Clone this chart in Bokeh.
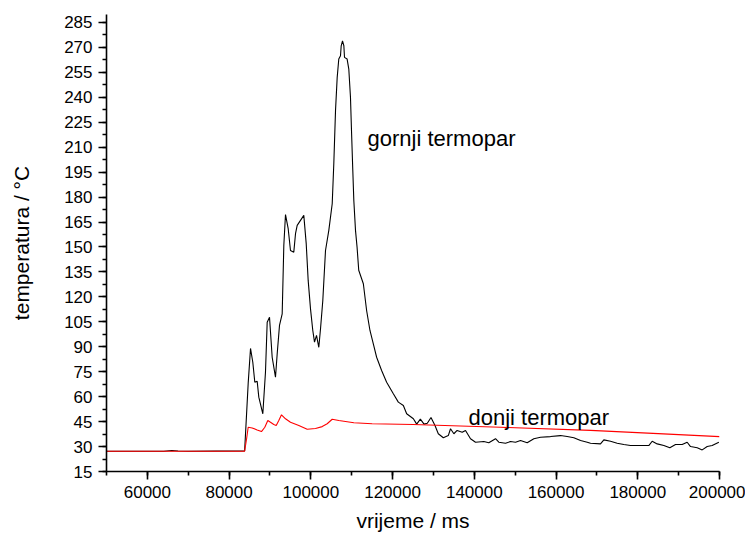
from bokeh.plotting import figure
from bokeh.models import SingleIntervalTicker, Label, Range1d, BasicTickFormatter
from bokeh.embed import file_html
from bokeh.resources import INLINE

# gornji termopar (upper thermocouple)
t_gornji = [50000, 64000, 66000, 67500, 70000, 83800, 84670, 85240, 85800, 86290,
            86870, 87270, 88250, 88900, 89320, 89890, 90540, 91350, 91770, 92330,
            92990, 93390, 93800, 94460, 95020, 95830, 96250, 96660, 98280, 98870,
            99350, 99920, 100480, 100900, 101390, 101950, 102370, 102930, 103590, 104400,
            105230, 105620, 106040, 106450, 106840, 107260, 107430, 107750, 108080, 108240,
            108880, 109290, 109700, 109950, 110270, 110520, 110930, 111310, 111720, 112850,
            113650, 114470, 115290, 116100, 117320, 118550, 120190, 121410, 122640, 123450,
            125090, 125900, 126800, 127700, 128500, 129400, 130380, 131190, 132420, 133640,
            134180, 135000, 135800, 137040, 137850, 139070, 140300, 142330, 143550, 145190,
            146000, 147640, 148860, 150080, 151310, 152940, 154570, 156200, 158650, 161090,
            162730, 164360, 166000, 167630, 168440, 170880, 171700, 173330, 174960, 176590,
            178220, 181480, 182700, 183530, 184750, 186380, 187850, 189240, 190870, 192090,
            192910, 194550, 195770, 196990, 198210, 199840]
T_gornji = [27.2, 27.2, 27.6, 27.3, 27.2, 27.4, 68, 89, 80.7, 68.7,
            69.3, 59.7, 49.7, 74.7, 104.8, 107.8, 83.7, 71.7, 85.8, 102.8,
            109.8, 150.9, 169.5, 161, 147.9, 146.9, 158, 163, 169, 152,
            129.9, 112.8, 99.8, 92.8, 96.8, 89.7, 100.8, 117.8, 147.9, 160,
            176, 200, 232, 252, 263, 265, 271, 274, 271, 264,
            263, 257, 240, 220, 196, 178, 160, 150, 136, 127.9,
            111.8, 99.8, 91.8, 83.7, 75.7, 68.7, 61.7, 56.7, 54.7, 49.7,
            46.7, 43.5, 46.5, 43.5, 44, 47.5, 42.7, 37.7, 35.3, 36.6,
            40.7, 37.7, 39.7, 38.6, 39.7, 34.7, 32.6, 33, 32.3, 34.7,
            32.6, 32, 33, 32.6, 33.6, 32.3, 34.7, 35.6, 36, 36.6,
            36, 35.3, 33.6, 32.6, 32, 31.6, 34, 33.2, 32, 31.2,
            30.6, 30.6, 30.6, 33.2, 31.6, 30.6, 29.3, 31.2, 31.2, 32.6,
            30, 29.3, 28, 30, 30.6, 32.6]

# donji termopar (lower thermocouple)
t_donji = [50000, 83800, 84300, 84670, 85650, 86870, 87920, 88740, 89470, 90130,
           90940, 91530, 92160, 92820, 93800, 95020, 97060, 99110, 101140, 102780,
           104000, 105230, 106850, 108490, 110530, 115000, 125000, 136620, 146400, 168440,
           185000, 200000]
T_donji = [27.2, 27.2, 35, 41.6, 41.2, 40, 39, 41.6, 45.7, 44.6,
           43.3, 42.7, 45.7, 49.1, 46.7, 44.6, 42.7, 40.4, 40.9, 42,
           43.7, 46.4, 45.7, 45.1, 44.3, 43.7, 43.3, 42.4, 41.6, 39.7,
           37.8, 36]

FONT = "Liberation Sans"

p = figure(frame_width=613, frame_height=457, output_backend="svg", toolbar_location=None,
           x_range=Range1d(50000, 200000), y_range=Range1d(15, 289.8),
           min_border_left=106, min_border_top=14, min_border_right=26, min_border_bottom=50)
p.outline_line_color = None
p.xgrid.visible = False
p.ygrid.visible = False
p.background_fill_color = "white"
p.border_fill_color = "white"

p.line(t_gornji, T_gornji, line_color="black", line_width=1.1)
p.line(t_donji, T_donji, line_color="red", line_width=1.1)

p.xaxis.ticker = SingleIntervalTicker(interval=20000, num_minor_ticks=2)
p.yaxis.ticker = SingleIntervalTicker(interval=15, num_minor_ticks=2)
p.xaxis.formatter = BasicTickFormatter(use_scientific=False)

for ax in (p.xaxis, p.yaxis):
    ax.axis_line_width = 1.6
    ax.axis_line_color = "black"
    ax.major_tick_line_color = "black"
    ax.minor_tick_line_color = "black"
    ax.major_tick_line_width = 1.6
    ax.minor_tick_line_width = 1.6
    ax.major_tick_in = 0
    ax.major_tick_out = 8
    ax.minor_tick_in = 0
    ax.minor_tick_out = 4
    ax.major_label_text_font = FONT
    ax.major_label_text_font_size = "17px"
    ax.major_label_text_color = "black"
    ax.axis_label_text_font = FONT
    ax.axis_label_text_font_size = "21px"
    ax.axis_label_text_font_style = "normal"
    ax.axis_label_text_color = "black"
    ax.major_label_standoff = 6

p.xaxis.axis_label = "vrijeme / ms"
p.yaxis.axis_label = "temperatura / °C"
p.xaxis.axis_label_standoff = 8
p.yaxis.axis_label_standoff = 28

p.add_layout(Label(x=113870, y=215.2, text="gornji termopar", text_font=FONT,
                   text_font_size="22px", text_color="black", text_baseline="alphabetic"))
p.add_layout(Label(x=138580, y=47.3, text="donji termopar", text_font=FONT,
                   text_font_size="22px", text_color="black", text_baseline="alphabetic"))

open("out.html", "w").write(file_html(p, INLINE))
